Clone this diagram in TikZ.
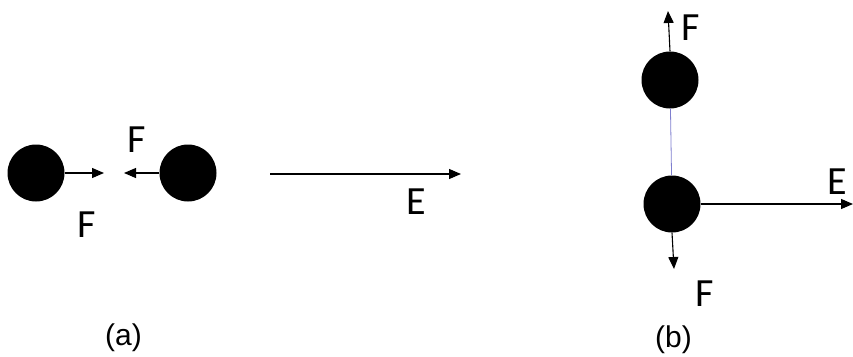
\documentclass[tikz,border=0pt]{standalone}
\usepackage{fontspec}
\setmainfont{Carlito}
\newfontfamily\capfont{Liberation Sans}
\usepackage{xcolor}
\usetikzlibrary{arrows.meta, positioning}

\begin{document}
\begin{tikzpicture}[
    x=1pt, y=-1pt,
    ball/.style={draw=none, circle, fill=black, minimum size=57pt, inner sep=0pt},
    label/.style={font=\fontsize{40}{42}\selectfont, inner sep=0pt},
    caption/.style={font=\capfont\fontsize{30}{32}\selectfont, inner sep=0pt},
    arrow/.style={line width=1.1pt, -{Triangle[length=12pt, width=10pt]}},
    rod/.style={line width=0.8pt, color=blue!45!gray!70}
]
\useasboundingbox (0,0) rectangle (853,356);

% Nodes (a)
\node (a1) [ball] at (36,173) {};
\node (a2) [ball] at (188,173) {};
\coordinate (a1tip) at (104,173);
\coordinate (a2tip) at (124,173);
\coordinate (ea) at (270,174);
\coordinate (eatip) at (461,174);

% Nodes (b)
\node (b1) [ball] at (670,80) {};
\node (b2) [ball] at (672,204) {};
\coordinate (b1tip) at (668,11);
\coordinate (b2tip) at (674,269);
\coordinate (ebtip) at (853,204);

% Links
\draw[arrow] (a1) -- (a1tip);
\draw[arrow] (a2) -- (a2tip);
\draw[arrow] (ea) -- (eatip);
\draw[rod] (b1) -- (b2);
\draw[arrow] (b1.north) -- (b1tip);
\draw[arrow] (b2.south) -- (b2tip);
\draw[arrow] (b2) -- (ebtip);

% Labels
\node[label] at (136.5,140) {F};
\node[label] at (87,225) {F};
\node[label] at (416,202) {E};
\node[label] at (690.5,28) {F};
\node[label] at (837,182) {E};
\node[label] at (705,294) {F};
\node[caption] at (123.5,338) {(a)};
\node[caption] at (673.5,340) {(b)};

\end{tikzpicture}
\end{document}
